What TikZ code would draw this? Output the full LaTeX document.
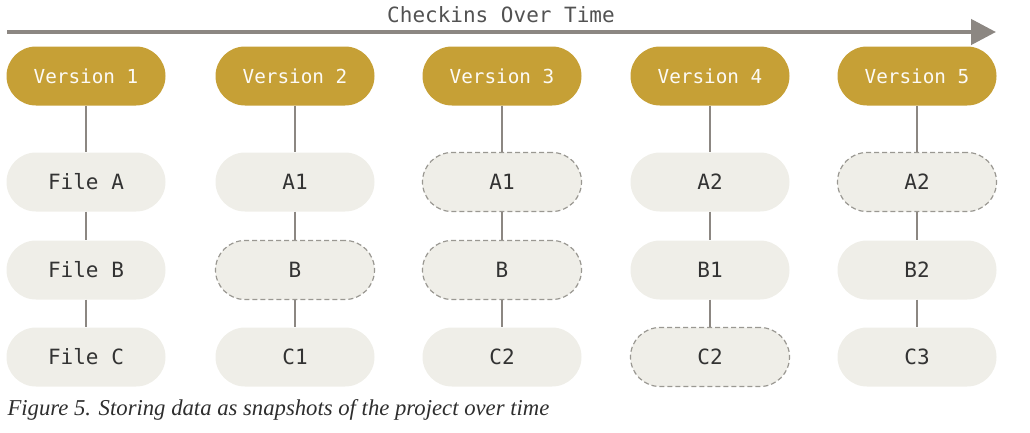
\documentclass[tikz,border=0pt]{standalone}
\usepackage{fontspec}
\setmonofont{DejaVu Sans Mono}
\newfontfamily\capfont{Liberation Serif}
\usetikzlibrary{arrows.meta}
\definecolor{gold}{HTML}{C6A036}
\definecolor{boxfill}{HTML}{EFEEE8}
\definecolor{linegray}{HTML}{8C8782}
\definecolor{dashgray}{HTML}{9A9892}
\definecolor{txt}{HTML}{333333}
\tikzset{
  pill/.style={rounded corners=29.5pt, minimum width=159pt, minimum height=59pt, inner sep=0pt},
  ver/.style={pill, fill=gold, text=white!95!gold, font=\ttfamily\fontsize{19.3}{21}\selectfont},
  file/.style={pill, fill=boxfill, text=txt, font=\ttfamily\fontsize{21}{23}\selectfont},
  same/.style={file, draw=dashgray, line width=1.2pt, dash pattern=on 5pt off 3pt},
  conn/.style={draw=linegray, line width=1.6pt},
}
\begin{document}
\begin{tikzpicture}[x=1pt,y=-1pt]
\useasboundingbox (0,0) rectangle (1030,432);
\coordinate (as) at (7,32);
\coordinate (ae) at (996,32);
\draw[linegray, line width=4.5pt, -{Triangle[length=25pt,width=25pt]}] (as) -- (ae);
\node[text=txt!85!white, font=\ttfamily\fontsize{21}{23}\selectfont] (title) at (501,15) {Checkins Over Time};
% columns
\foreach \i/\x/\a/\b/\c/\sa/\sb/\sc in {1/86/File A/File B/File C/file/file/file,
  2/295/A1/B/C1/file/same/file,
  3/502/A1/B/C2/same/same/file,
  4/710/A2/B1/C2/file/file/same,
  5/917/A2/B2/C3/same/file/file}{
  \node[ver] (v\i) at (\x,76) {Version \i};
  \node[\sa] (a\i) at (\x,182) {\a};
  \node[\sb] (b\i) at (\x,270) {\b};
  \node[\sc] (c\i) at (\x,357) {\c};
  \draw[conn] (v\i) -- (a\i);
  \draw[conn] (a\i) -- (b\i);
  \draw[conn] (b\i) -- (c\i);
}
\node[anchor=west, text=txt!90!black, font=\capfont\itshape\fontsize{22.7}{25}\selectfont] (cap) at (4,410) {Figure 5. Storing data as snapshots of the project over time};
\end{tikzpicture}
\end{document}
